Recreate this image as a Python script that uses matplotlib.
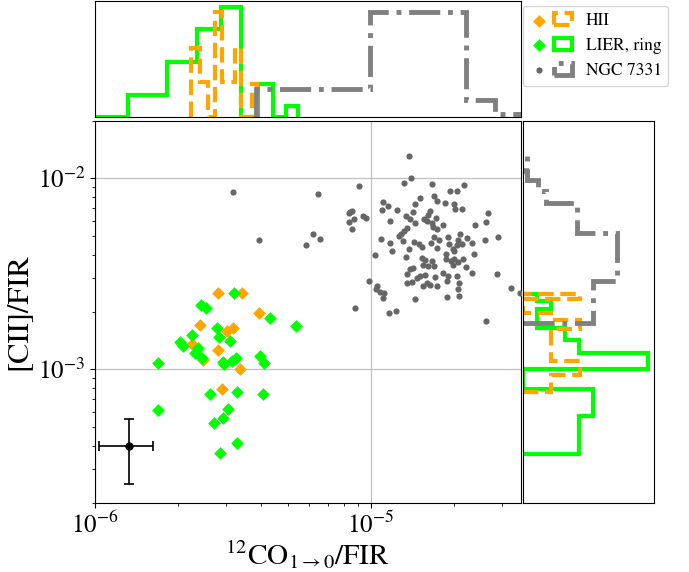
import numpy as np
import matplotlib
matplotlib.use("Agg")
import matplotlib.pyplot as plt
import matplotlib.patches as mpatches
from matplotlib.legend_handler import HandlerTuple

plt.rcParams['font.family'] = ['STIXGeneral', 'DejaVu Serif']
plt.rcParams['mathtext.fontset'] = 'stix'

# ---------------- scatter data (log10 values) ----------------
hii_logx = [-5.5525, -5.4654, -5.4038, -5.6190, -5.5199, -5.5005, -5.6493, -5.5525,
            -5.6069, -5.4739, -5.5380]
hii_logy = [-2.5986, -2.6021, -2.7068, -2.7679, -2.7993, -2.7819, -2.8639, -2.9005,
            -2.9511, -2.9965, -3.1012]

lier_logx = [-5.4957, -5.6154, -5.5973, -5.3651, -5.5586, -5.6493, -5.5489, -5.5102,
             -5.6916, -5.6795, -5.6275, -5.6372, -5.6130, -5.7726, -5.5368, -5.5320,
             -5.5041, -5.4884, -5.4014, -5.3868, -5.5828, -5.4860, -5.3893, -5.7726,
             -5.5162, -5.5344, -5.5683, -5.4836, -5.5465, -5.2700]
lier_logy = [-2.6021, -2.6632, -2.6806, -2.7295, -2.7819, -2.8202, -2.8307, -2.8482,
             -2.8569, -2.8778, -2.8866, -2.9162, -2.9424, -2.9651, -2.9599, -2.9738,
             -2.9564, -2.9389, -2.9302, -2.9651, -3.1309, -3.1170, -3.1274, -3.2129,
             -3.2094, -3.2531, -3.2827, -3.3874, -3.4398, -2.7700]

ngc_logx = [-4.8595, -4.8535, -4.8777, -4.7785, -5.0409, -4.7120, -4.6878, -4.6612,
            -5.1909, -4.8208, -4.7688, -4.7604, -4.7301, -4.9563, -4.9357, -4.9587,
            -4.9055, -4.8377, -4.6975, -4.6696, -4.6938, -4.5753, -5.0687, -5.0772,
            -5.0288, -5.0180, -5.0591, -5.0796, -5.0663, -4.9309, -4.8716, -4.8571,
            -4.8474, -4.8390, -4.8063, -4.7845, -4.7906, -4.7628, -4.7966, -4.7785,
            -4.7724, -4.7579, -4.7362, -4.6213, -4.5826, -4.8885, -4.8789, -4.8692,
            -4.8982, -4.9623, -4.9297, -4.9236, -4.8837, -4.8414, -4.8257, -4.8148,
            -4.8607, -4.8716, -4.9829, -4.7809, -4.7688, -4.7507, -4.7604, -4.7204,
            -4.7144, -4.6817, -4.6757, -4.6515, -4.6310, -4.5850, -4.5366, -4.6878,
            -4.6999, -4.6696, -4.6963, -4.6249, -4.7277, -4.7265, -4.7095, -4.6975,
            -4.6842, -4.6636, -4.6551, -4.6334, -4.5402, -4.6999, -4.8148, -4.8027,
            -4.8087, -4.7785, -4.7700, -4.7906, -4.8450, -4.8571, -4.8668, -4.8329,
            -4.8208, -4.8027, -4.7664, -4.7362, -4.7180, -4.6878, -4.6781, -4.6817,
            -4.6781, -4.7241, -4.8692, -4.8511, -4.8111, -4.7966, -4.7845, -4.7604,
            -4.7241, -5.0047, -4.9756, -4.9805, -4.9659, -4.9502, -4.9563, -4.8390,
            -5.0567, -4.9321, -4.9079, -4.5813, -4.4919, -5.2344, -5.2102, -5.1836,
            -5.0748, -4.4580, -5.4050, -5.4993]
ngc_logy = [-1.8796, -2.0000, -2.0244, -2.0279, -2.0401, -2.0663, -2.0663, -2.0349,
            -2.0803, -2.1012, -2.0925, -2.1187, -2.1274, -2.1222, -2.1448, -2.1658,
            -2.1658, -2.1326, -2.1361, -2.1571, -2.1623, -2.1797, -2.1710, -2.1832,
            -2.1972, -2.2059, -2.2146, -2.2286, -2.2635, -2.2251, -2.1972, -2.2146,
            -2.1763, -2.2321, -2.2146, -2.1710, -2.1885, -2.2094, -2.2234, -2.2321,
            -2.2530, -2.2635, -2.2426, -2.2443, -2.2286, -2.2880, -2.2757, -2.2583,
            -2.3019, -2.3159, -2.3403, -2.3804, -2.3281, -2.3333, -2.3455, -2.3578,
            -2.3717, -2.4119, -2.4014, -2.3403, -2.3054, -2.3246, -2.3630, -2.3054,
            -2.3455, -2.3194, -2.2880, -2.3106, -2.3368, -2.3229, -2.3054, -2.3508,
            -2.3717, -2.3455, -2.3804, -2.3944, -2.3979, -2.4241, -2.4328, -2.4241,
            -2.4380, -2.4241, -2.4625, -2.4939, -2.4974, -2.4503, -2.4153, -2.4276,
            -2.4503, -2.4328, -2.4590, -2.4590, -2.4712, -2.4764, -2.5026, -2.5201,
            -2.5113, -2.5078, -2.5148, -2.4939, -2.5113, -2.5113, -2.5462, -2.5811,
            -2.6126, -2.6195, -2.5497, -2.5427, -2.5637, -2.5497, -2.5602, -2.5637,
            -2.5375, -2.5375, -2.5637, -2.5811, -2.5951, -2.6021, -2.6248, -2.6283,
            -2.6771, -2.7068, -2.6946, -2.7469, -2.5759, -2.3473, -2.2880, -2.3159,
            -2.1763, -2.6020, -2.3194, -2.0733]

# typical error bar
err_x, err_y = 1.33e-6, 4.0e-4
err_dx, err_dy = 0.30e-6, 1.48e-4

# ---------------- histogram outlines (normalised heights) ----------------
top_lier_edges = [0.281, 0.798, 1.315, 1.832, 2.349, 2.866, 3.383, 3.900, 4.417, 4.934, 5.451]  # 1e-6
top_lier_h = [0.10, 0.0, 0.20, 0.50, 0.80, 1.00, 0.0, 0.30, 0.0, 0.10]
top_hii_edges = [2.234, 2.399, 2.564, 2.729, 2.894, 3.059, 3.224, 3.389, 3.554, 3.719, 3.884]
top_hii_h = [0.63, 0.32, 0.0, 0.95, 0.32, 0.32, 0.63, 0.0, 0.0, 0.30]
top_ngc_edges = [3.85, 9.95, 16.05, 22.15, 28.25, 34.35, 40.45]
top_ngc_h = [0.26, 0.95, 0.95, 0.155, 0.027, 0.027]

right_lier_edges = [0.359, 0.573, 0.787, 1.001, 1.215, 1.429, 1.643, 1.857, 2.071, 2.285, 2.499]  # 1e-3
right_lier_h = [0.444, 0.556, 0.0, 1.0, 0.444, 0.333, 0.111, 0.111, 0.222, 0.111]
right_hii_edges = [0.767, 0.940, 1.113, 1.287, 1.460, 1.633, 1.806, 1.980, 2.153, 2.326, 2.499]
right_hii_h = [0.225, 0.455, 0.225, 0.225, 0.225, 0.455, 0.225, 0.0, 0.0, 0.455]
right_ngc_edges = [1.762, 2.905, 4.048, 5.191, 6.334, 7.477, 8.620, 9.763, 10.906, 12.049, 13.192]
right_ngc_h = [0.56, 0.75, 0.75, 0.43, 0.43, 0.185, 0.12, 0.03, 0.02, 0.03]

labels = ['HII', 'LIER, ring', 'NGC 7331']
c_hii, c_lier, c_ngc, c_ngc_pts = '#FFA500', '#00FF00', '#808080', '#666666'

W, H = 689, 572
fig = plt.figure(figsize=(W / 100, H / 100), dpi=100)
ax = fig.add_axes([95 / W, 1 - 503 / H, 425.5 / W, 382 / H])
axt = fig.add_axes([95 / W, 1 - 117.3 / H, 425.5 / W, 116.3 / H])
axr = fig.add_axes([523.3 / W, 1 - 503 / H, 131 / W, 382 / H])

sh = ax.scatter(10 ** np.array(hii_logx), 10 ** np.array(hii_logy), marker='D', s=42,
                color=c_hii, linewidths=0, zorder=3)
sl = ax.scatter(10 ** np.array(lier_logx), 10 ** np.array(lier_logy), marker='D', s=42,
                color=c_lier, linewidths=0, zorder=3)
sn = ax.scatter(10 ** np.array(ngc_logx), 10 ** np.array(ngc_logy), marker='o', s=20,
                color=c_ngc_pts, linewidths=0, zorder=3)
ax.errorbar(err_x, err_y, xerr=err_dx, yerr=err_dy, fmt='o', color='k', ms=5,
            capsize=3.5, elinewidth=1.2, capthick=1.2, zorder=4)

ax.set_xscale('log')
ax.set_yscale('log')
ax.set_xlim(1e-6, 3.5e-5)
ax.set_ylim(2e-4, 2e-2)
ax.grid(True, which='major', color='#c0c0c0', lw=0.9)
ax.set_axisbelow(True)
ax.tick_params(labelsize=18)
ax.set_xlabel(r'$^{12}$CO$_{1\rightarrow0}$/FIR', fontsize=21, labelpad=0)
ax.set_ylabel('[CII]/FIR', fontsize=22)

# top histogram
sc6 = 1e-6
axt.stairs(top_lier_h, np.array(top_lier_edges) * sc6, color=c_lier, lw=3, ls='-')
axt.stairs(top_hii_h, np.array(top_hii_edges) * sc6, color=c_hii, lw=3, ls='--')
axt.stairs(top_ngc_h, np.array(top_ngc_edges) * sc6, color=c_ngc, lw=3.5, ls='-.')
axt.set_xscale('log')
axt.set_xlim(1e-6, 3.5e-5)
axt.set_ylim(0, 1.05)
axt.tick_params(which='both', bottom=False, left=False, labelbottom=False, labelleft=False)

# right histogram
sc3 = 1e-3
axr.stairs(right_lier_h, np.array(right_lier_edges) * sc3, color=c_lier, lw=3, ls='-',
           orientation='horizontal')
axr.stairs(right_hii_h, np.array(right_hii_edges) * sc3, color=c_hii, lw=3, ls='--',
           orientation='horizontal')
axr.stairs(right_ngc_h, np.array(right_ngc_edges) * sc3, color=c_ngc, lw=3.5, ls='-.',
           orientation='horizontal')
axr.set_yscale('log')
axr.set_ylim(2e-4, 2e-2)
axr.set_xlim(0, 1.05)
axr.tick_params(which='both', bottom=False, left=False, labelbottom=False, labelleft=False)

ph = mpatches.Patch(facecolor='none', edgecolor=c_hii, lw=3, ls='--')
pl = mpatches.Patch(facecolor='none', edgecolor=c_lier, lw=3, ls='-')
pn = mpatches.Patch(facecolor='none', edgecolor=c_ngc, lw=3.5, ls='-.')
fig.legend([(sh, ph), (sl, pl), (sn, pn)], labels, loc='upper left',
           bbox_to_anchor=(523 / W, 1 - 6 / H), borderaxespad=0, fontsize=12.5,
           handlelength=2.4, handler_map={tuple: HandlerTuple(ndivide=None, pad=0.4)})

fig.savefig('out.png', dpi=100)
